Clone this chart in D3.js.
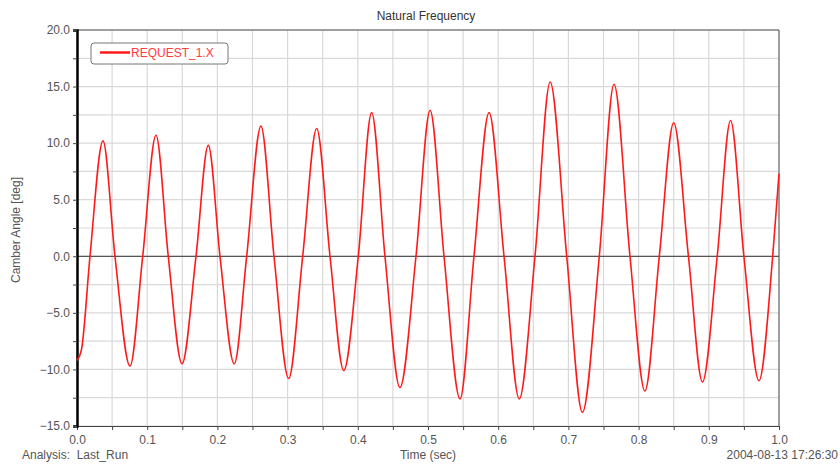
<!DOCTYPE html>
<html><head><meta charset="utf-8">
<script src="https://cdn.jsdelivr.net/npm/d3@7"></script>
<style>body{margin:0;background:#fff}svg{display:block;font-family:"Liberation Sans",Arial,sans-serif}</style>
</head><body>
<script>
// Data: extrema and zero crossings of the camber angle trace
const times = [0.0, 0.0065, 0.0185, 0.037, 0.0541, 0.0755, 0.0936, 0.1125, 0.130, 0.1496, 0.1695, 0.187, 0.2037, 0.224, 0.2417, 0.262, 0.2806, 0.3015,
  0.3215, 0.3414, 0.3604, 0.380, 0.4007, 0.4197, 0.4387, 0.460, 0.4829, 0.503, 0.5228, 0.5456, 0.5655, 0.587, 0.6083, 0.630,
  0.6524, 0.674, 0.6976, 0.720, 0.744, 0.765, 0.7877, 0.809, 0.8295, 0.850, 0.871, 0.891, 0.912, 0.931, 0.950, 0.9715, 0.991, 1.0];
const camber = [-9.2, -8.2, 0, 10.2, 0, -9.7, 0, 10.7, 0, -9.5, 0, 9.8, 0, -9.5, 0, 11.5, 0, -10.8,
  0, 11.3, 0, -10.1, 0, 12.7, 0, -11.6, 0, 12.9, 0, -12.6, 0, 12.7, 0, -12.6,
  0, 15.4, 0, -13.8, 0, 15.2, 0, -11.9, 0, 11.8, 0, -11.1, 0, 12.0, 0, -11.0, 0, 7.3];
const xTicks = [0.0, 0.1, 0.2, 0.3, 0.4, 0.5, 0.6, 0.7, 0.8, 0.9, 1.0];
const yTicks = [-15, -10, -5, 0, 5, 10, 15, 20];
const seriesName = "REQUEST_1.X";

const W = 840, H = 467;
const L = 77, R = 779, T = 30, B = 426;
const svg = d3.select("body").append("svg").attr("width", W).attr("height", H);
const x = d3.scaleLinear().domain([0, 1]).range([L, R]);
const y = d3.scaleLinear().domain([-15, 20]).range([B, T]);

// grid
const xGrid = d3.range(0, 1.0001, 0.05);
const yGrid = d3.range(-15, 20.0001, 2.5);
svg.append("g").selectAll("line").data(xGrid).join("line")
  .attr("x1", d => x(d)).attr("x2", d => x(d)).attr("y1", T).attr("y2", B)
  .attr("stroke", "#d9d9d9").attr("stroke-width", 1.2);
svg.append("g").selectAll("line").data(yGrid).join("line")
  .attr("x1", L).attr("x2", R).attr("y1", d => y(d)).attr("y2", d => y(d))
  .attr("stroke", "#d9d9d9").attr("stroke-width", 1.2);

// zero line
svg.append("line").attr("x1", L).attr("x2", R).attr("y1", y(0)).attr("y2", y(0))
  .attr("stroke", "#555").attr("stroke-width", 1.2);

// frame
svg.append("line").attr("x1", L).attr("x2", R).attr("y1", T).attr("y2", T).attr("stroke", "#555");
svg.append("line").attr("x1", R).attr("x2", R).attr("y1", T).attr("y2", B).attr("stroke", "#555");

// axes
const xAxis = svg.append("g").attr("transform", `translate(0,${B})`)
  .call(d3.axisBottom(x).tickValues(xGrid).tickSize(4).tickFormat(d => xTicks.some(t => Math.abs(t - d) < 1e-9) ? d3.format(".1f")(d) : ""));
xAxis.select(".domain").attr("stroke", "#444");
xAxis.selectAll(".tick line").attr("stroke", "#444");
xAxis.selectAll("text").attr("fill", "#555").attr("font-size", 12).attr("dy", "0.9em")
  .attr("font-family", "Liberation Sans, Arial, sans-serif");

const yAxis = svg.append("g").attr("transform", `translate(${L},0)`)
  .call(d3.axisLeft(y).tickValues(yGrid).tickSize(4).tickFormat(d => yTicks.includes(d) ? d3.format(".1f")(d) : ""));
yAxis.select(".domain").attr("stroke", "#000").attr("stroke-width", 2.5);
yAxis.selectAll(".tick line").attr("stroke", "#444");
yAxis.selectAll("text").attr("fill", "#555").attr("font-size", 12).attr("x", -7)
  .attr("font-family", "Liberation Sans, Arial, sans-serif");

// line
const pts = times.map((t, i) => [t, camber[i]]);
svg.append("path").datum(pts)
  .attr("fill", "none").attr("stroke", "#ff1a1a").attr("stroke-width", 1.6)
  .attr("d", d3.line().x(d => x(d[0])).y(d => y(d[1])).curve(d3.curveMonotoneX));

// legend
const lg = svg.append("g");
lg.append("rect").attr("x", 91).attr("y", 43).attr("width", 137).attr("height", 21).attr("rx", 3)
  .attr("fill", "#fff").attr("stroke", "#777");
lg.append("line").attr("x1", 100).attr("x2", 130).attr("y1", 52.5).attr("y2", 52.5)
  .attr("stroke", "#ff1a1a").attr("stroke-width", 2.5);
lg.append("text").attr("x", 131).attr("y", 57).attr("font-size", 12).attr("fill", "#ff3b3b").text(seriesName);

// texts
svg.append("text").attr("x", 426).attr("y", 20).attr("text-anchor", "middle").attr("font-size", 12).attr("fill", "#333").text("Natural Frequency");
svg.append("text").attr("transform", `translate(20,${(T + B) / 2 + 2}) rotate(-90)`).attr("text-anchor", "middle")
  .attr("font-size", 12).attr("fill", "#555").text("Camber Angle [deg]");
svg.append("text").attr("x", 22).attr("y", 459).attr("font-size", 12).attr("fill", "#555").attr("xml:space", "preserve").text("Analysis:  Last_Run");
svg.append("text").attr("x", 428).attr("y", 459).attr("text-anchor", "middle").attr("font-size", 12).attr("fill", "#555").text("Time (sec)");
svg.append("text").attr("x", 838).attr("y", 459).attr("text-anchor", "end").attr("font-size", 12).attr("fill", "#555").text("2004-08-13 17:26:30");
</script>
</body></html>
